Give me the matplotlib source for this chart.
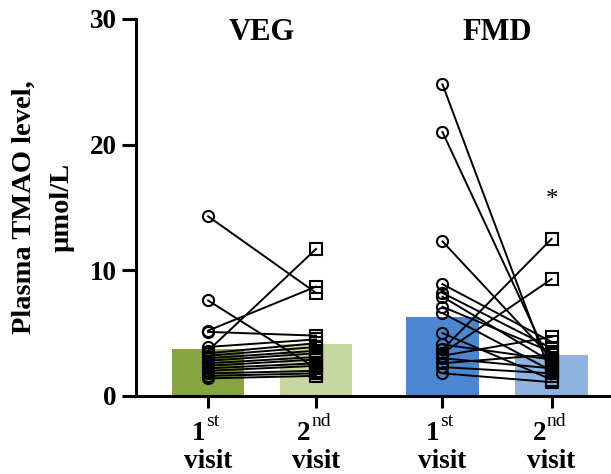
import numpy as np
import matplotlib.pyplot as plt
import matplotlib.transforms as mtransforms

plt.rcParams['font.family'] = ['Liberation Serif', 'DejaVu Serif']
plt.rcParams['font.weight'] = 'bold'

# data
groups = ['VEG', 'FMD']
bar_values = [3.7, 4.1, 6.3, 3.3]
bar_colors = ['#86a540', '#c6d89f', '#4b87d0', '#8fb4e2']
visit_num = ['1', '2', '1', '2']
visit_sup = ['st', 'nd', 'st', 'nd']

veg_v1 = [14.3, 7.6, 5.2, 5.1, 3.9, 3.6, 3.4, 3.2, 3.0, 2.8, 2.6, 2.4, 2.2, 2.0, 1.8, 1.6, 1.4]
veg_v2 = [8.2, 2.2, 8.7, 4.8, 4.5, 11.7, 4.2, 3.9, 3.6, 3.4, 3.1, 2.9, 2.6, 2.4, 2.0, 1.8, 1.6]
fmd_v1 = [24.8, 21.0, 12.3, 8.9, 8.2, 7.9, 7.1, 6.6, 5.0, 4.1, 3.7, 3.4, 3.2, 3.0, 2.6, 2.3, 1.8]
fmd_v2 = [1.6, 2.4, 3.0, 4.3, 3.8, 2.7, 3.5, 2.0, 1.3, 2.9, 12.5, 9.3, 4.7, 2.2, 3.3, 1.8, 1.1]
star_y = 15.6

pos = [0, 1, 2.17, 3.18]

fig = plt.figure(figsize=(6.11, 4.74), dpi=100)
ax = fig.add_axes([0.2226, 0.1646, 0.7774, 0.7954])

ax.bar(pos, bar_values, width=0.67, color=bar_colors, zorder=1)

for a, b, x0, x1 in [(veg_v1, veg_v2, pos[0], pos[1]), (fmd_v1, fmd_v2, pos[2], pos[3])]:
    for y0, y1 in zip(a, b):
        ax.plot([x0, x1], [y0, y1], color='black', lw=1.4, zorder=2)
    ax.plot([x0] * len(a), a, 'o', ms=8, mfc='none', mec='black', mew=1.5, zorder=3)
    ax.plot([x1] * len(b), b, 's', ms=8, mfc='none', mec='black', mew=1.5, zorder=3)

ax.text(pos[3], star_y, '*', ha='center', va='center', fontsize=18, fontweight='normal')
ax.text((pos[0] + pos[1]) / 2, 28.9, groups[0], ha='center', va='center', fontsize=22, fontweight='bold')
ax.text((pos[2] + pos[3]) / 2, 28.9, groups[1], ha='center', va='center', fontsize=22, fontweight='bold')

ax.set_xlim(-0.667, 3.73)
ax.set_ylim(0, 30)
ax.set_yticks([0, 10, 20, 30])
ax.set_xticks(pos)
ax.set_xticklabels([])
ax.tick_params(axis='y', labelsize=19.5, width=2.2, length=10, pad=4)
ax.tick_params(axis='x', width=2.2, length=8.5)
for lab in ax.get_yticklabels():
    lab.set_fontweight('bold')

# x tick labels: "1st / visit" with superscript
trans = ax.get_xaxis_transform()
for x, n, s in zip(pos, visit_num, visit_sup):
    dx = -2 if s == 'st' else -4
    t1 = mtransforms.offset_copy(trans, fig=fig, x=dx, y=-31.5, units='points')
    ax.text(x, 0, n, transform=t1, ha='right', va='baseline', fontsize=19.5, fontweight='bold')
    t2 = mtransforms.offset_copy(trans, fig=fig, x=dx + 0.5, y=-21.5, units='points')
    ax.text(x, 0, s, transform=t2, ha='left', va='baseline', fontsize=14, fontweight='normal')
    t3 = mtransforms.offset_copy(trans, fig=fig, x=0, y=-51.5, units='points')
    ax.text(x, 0, 'visit', transform=t3, ha='center', va='baseline', fontsize=19.5, fontweight='bold')

ax.spines['top'].set_visible(False)
ax.spines['right'].set_visible(False)
ax.spines['left'].set_linewidth(2.2)
ax.spines['bottom'].set_linewidth(2.2)

ax.set_ylabel('Plasma TMAO level,\nµmol/L', fontsize=20.5, fontweight='bold', labelpad=11, linespacing=1.65)

fig.savefig('out.png', dpi=100)
